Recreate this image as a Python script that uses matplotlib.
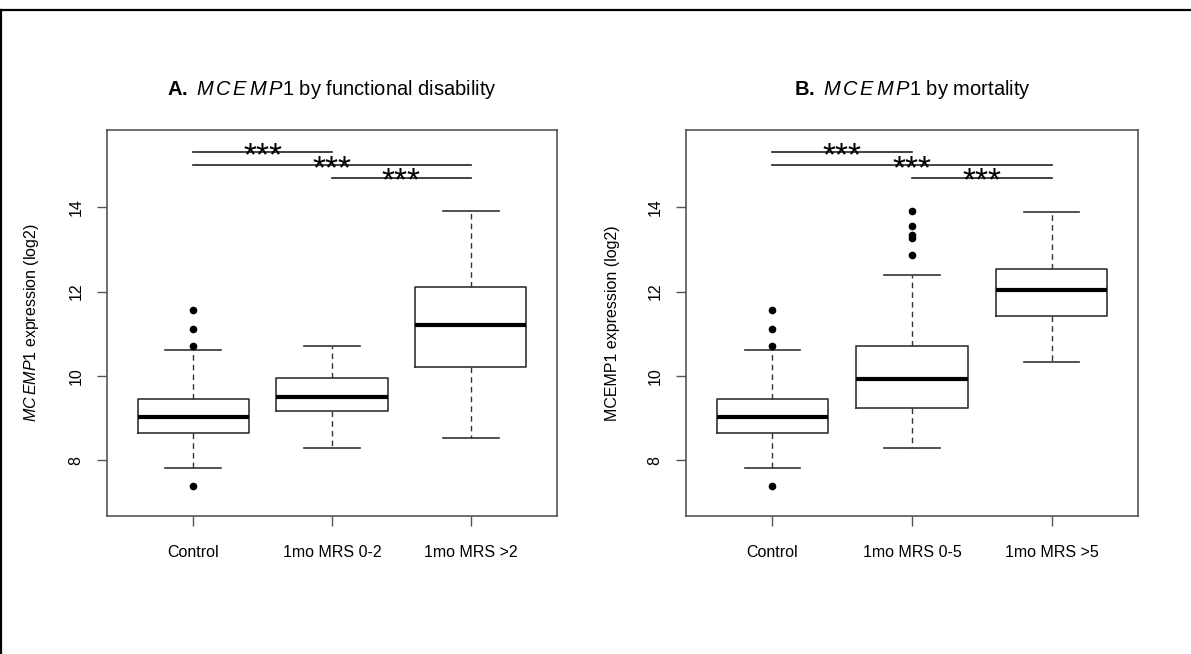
import matplotlib
matplotlib.use("Agg")
import matplotlib.pyplot as plt
from matplotlib.lines import Line2D

plt.rcParams['font.family'] = ['Liberation Sans', 'DejaVu Sans']
plt.rcParams['mathtext.fontset'] = 'custom'
plt.rcParams['mathtext.rm'] = 'Liberation Sans'
plt.rcParams['mathtext.it'] = 'Liberation Sans:italic'
plt.rcParams['mathtext.bf'] = 'Liberation Sans:bold'

# ---------------- data ----------------
groups_a = ["Control", "1mo MRS 0-2", "1mo MRS >2"]
groups_b = ["Control", "1mo MRS 0-5", "1mo MRS >5"]

# five-number summaries: whisker low, Q1, median, Q3, whisker high
whislo_a = [7.81, 8.29, 8.54]
q1_a = [8.64, 9.18, 10.22]
med_a = [9.03, 9.50, 11.21]
q3_a = [9.45, 9.94, 12.12]
whishi_a = [10.62, 10.70, 13.90]
fliers_a = [[7.39, 10.70, 11.11, 11.57], [], []]

whislo_b = [7.81, 8.29, 10.34]
q1_b = [8.64, 9.25, 11.41]
med_b = [9.03, 9.92, 12.03]
q3_b = [9.45, 10.70, 12.53]
whishi_b = [10.62, 12.40, 13.89]
fliers_b = [[7.39, 10.70, 11.11, 11.57], [12.86, 13.27, 13.35, 13.56, 13.90], []]

# significance brackets: (group i, group j, height)
sig_pairs = [(1, 2), (1, 3), (2, 3)]
sig_heights = [15.30, 15.00, 14.70]
sig_labels = ["***", "***", "***"]

y_ticks = [8, 10, 12, 14]
y_lim = (6.68, 15.83)

title_a = r"$\mathbf{A.}$ $\mathit{M\,C\,E\,M\,P}$1 by functional disability"
title_b = r"$\mathbf{B.}$ $\mathit{M\,C\,E\,M\,P}$1 by mortality"
ylabel_a = r"$\mathit{MC\,EMP}$1 expression (log2)"
ylabel_b = "MCEMP1 expression (log2)"

# ---------------- figure ----------------
W, H = 1191, 654
fig = plt.figure(figsize=(W / 100, H / 100), dpi=100)

def px_axes(left, top, right, bottom):
    return fig.add_axes([left / W, 1 - bottom / H, (right - left) / W, (bottom - top) / H])

ax_a = px_axes(107, 130, 557, 516)
ax_b = px_axes(686, 130, 1138, 516)

edge = '#333333'
spine_c = '#555555'

def draw_panel(ax, groups, wl, q1, md, q3, wh, fl, title, ylabel):
    stats = []
    for i in range(len(groups)):
        stats.append(dict(whislo=wl[i], q1=q1[i], med=md[i], q3=q3[i],
                          whishi=wh[i], fliers=fl[i], label=groups[i]))
    ax.bxp(stats, positions=range(1, len(groups) + 1), widths=0.8,
           showfliers=True, capwidths=0.4,
           boxprops=dict(color=edge, linewidth=1.2),
           medianprops=dict(color='black', linewidth=3.0, solid_capstyle='butt'),
           whiskerprops=dict(color=edge, linewidth=1.0, linestyle=(0, (4, 3))),
           capprops=dict(color=edge, linewidth=1.2),
           flierprops=dict(marker='o', markerfacecolor='black', markeredgecolor='black',
                           markersize=4.5, linestyle='none'))
    ax.set_xlim(0.38, 3.62)
    ax.set_ylim(*y_lim)
    ax.set_yticks(y_ticks)
    ax.set_yticklabels([str(t) for t in y_ticks], rotation=90, va='center')
    ax.set_xticks(range(1, len(groups) + 1))
    ax.set_xticklabels(groups)
    ax.tick_params(axis='both', direction='out', length=7, width=1.0,
                   color=spine_c, labelsize=11.5, labelcolor='black')
    ax.tick_params(axis='x', pad=14)
    ax.tick_params(axis='y', pad=10)
    for s in ax.spines.values():
        s.set_color(spine_c)
        s.set_linewidth(1.2)
    ax.set_ylabel(ylabel, fontsize=11.5, labelpad=20)
    ax.text(0.5, 1.09, title, transform=ax.transAxes, ha='center', va='baseline',
            fontsize=14.5)
    for (i, j), h, lab in zip(sig_pairs, sig_heights, sig_labels):
        ax.plot([i, j], [h, h], color='#222222', linewidth=1.2)
        ax.text((i + j) / 2, h - 0.31, lab, ha='center', va='baseline',
                fontsize=24, color='black')

draw_panel(ax_a, groups_a, whislo_a, q1_a, med_a, q3_a, whishi_a, fliers_a, title_a, ylabel_a)
draw_panel(ax_b, groups_b, whislo_b, q1_b, med_b, q3_b, whishi_b, fliers_b, title_b, ylabel_b)

# outer frame (top and left edges)
fig.add_artist(Line2D([0, 1], [1 - 10 / H, 1 - 10 / H], transform=fig.transFigure,
                      color='black', linewidth=1.6))
fig.add_artist(Line2D([1 / W, 1 / W], [0, 1 - 10 / H], transform=fig.transFigure,
                      color='black', linewidth=1.6))

fig.savefig("out.png", dpi=100)
